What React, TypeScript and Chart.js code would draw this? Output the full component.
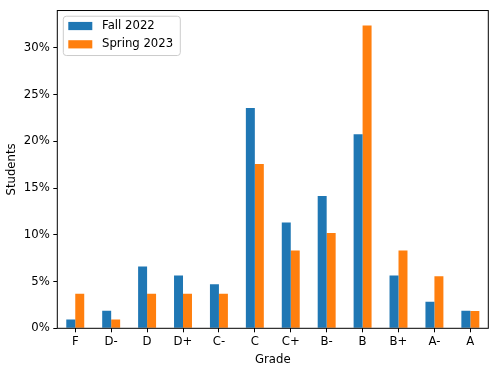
import React, { useEffect, useRef } from 'react';
import { Chart, registerables } from 'chart.js';

Chart.register(...registerables);

const grades = ['F', 'D-', 'D', 'D+', 'C-', 'C', 'C+', 'B-', 'B', 'B+', 'A-', 'A'];
const fall2022 = [0.94, 1.89, 6.6, 5.66, 4.72, 23.58, 11.32, 14.15, 20.75, 5.66, 2.83, 1.89];
const spring2023 = [3.7, 0.93, 3.7, 3.7, 3.7, 17.59, 8.33, 10.19, 32.41, 8.33, 5.56, 1.85];
const yTicks = [0, 5, 10, 15, 20, 25, 30];
const seriesLabels = ['Fall 2022', 'Spring 2023'];
const seriesColors = ['#1f77b4', '#ff7f0e'];

const FONT = 'DejaVu Sans';
const FS = 11.7;

const framePlugin = {
  id: 'frameAndLegend',
  afterDraw(chart: any) {
    const { ctx, chartArea: a } = chart;
    ctx.save();
    // axes frame
    ctx.strokeStyle = '#000';
    ctx.lineWidth = 1;
    ctx.strokeRect(a.left, a.top, a.right - a.left, a.bottom - a.top);
    // legend
    const bx = a.left + 6;
    const by = a.top + 5.7;
    const bw = 117;
    const bh = 39.3;
    ctx.beginPath();
    ctx.roundRect(bx, by, bw, bh, 3);
    ctx.fillStyle = 'rgba(255,255,255,0.8)';
    ctx.fill();
    ctx.strokeStyle = '#cccccc';
    ctx.lineWidth = 1;
    ctx.stroke();
    ctx.font = `${FS}px "${FONT}"`;
    ctx.textBaseline = 'middle';
    ctx.textAlign = 'left';
    chart.data.datasets.forEach((ds: any, i: number) => {
      const cy = by + 9.8 + i * 18.3;
      ctx.fillStyle = ds.backgroundColor;
      ctx.fillRect(bx + 5, cy - 4.1, 24, 8.2);
      ctx.fillStyle = '#000';
      ctx.fillText(ds.label, bx + 38.7, cy);
    });
    ctx.restore();
  },
};

export default function App() {
  const ref = useRef<HTMLCanvasElement>(null);
  useEffect(() => {
    if (!ref.current) return;
    const chart = new Chart(ref.current, {
      type: 'bar',
      data: {
        labels: grades,
        datasets: [
          { label: seriesLabels[0], data: fall2022, backgroundColor: seriesColors[0] },
          { label: seriesLabels[1], data: spring2023, backgroundColor: seriesColors[1] },
        ],
      },
      options: {
        responsive: false,
        animation: false,
        devicePixelRatio: 1,
        layout: { padding: { left: 0, right: 10.7, top: 9, bottom: 0 } },
        datasets: { bar: { categoryPercentage: 0.5, barPercentage: 1.0 } },
        plugins: { legend: { display: false }, tooltip: { enabled: false } },
        scales: {
          x: {
            grid: { display: true, drawOnChartArea: false, drawTicks: true, tickLength: 4, color: '#000', offset: false },
            border: { display: false },
            ticks: { color: '#000', font: { family: FONT, size: FS }, padding: 3, maxRotation: 0, autoSkip: false },
            title: { display: true, text: 'Grade', color: '#000', font: { family: FONT, size: FS }, padding: { top: 2, bottom: 10 } },
            afterFit: (s: any) => { s.height = 48.7; },
          },
          y: {
            min: 0,
            max: 34.0,
            grid: { display: true, drawOnChartArea: false, drawTicks: true, tickLength: 4, color: '#000' },
            border: { display: false },
            ticks: {
              color: '#000',
              font: { family: FONT, size: FS },
              padding: 3.5,
              includeBounds: false,
              callback: (v: any) => `${v}%`,
            },
            afterBuildTicks: (s: any) => { s.ticks = yTicks.map((v) => ({ value: v })); },
            title: { display: true, text: 'Students', color: '#000', font: { family: FONT, size: FS }, padding: { top: 5, bottom: 2 } },
            afterFit: (s: any) => { s.width = 57.3; },
          },
        },
      },
      plugins: [framePlugin],
    });
    return () => chart.destroy();
  }, []);
  return (
    <div style={{ position: 'fixed', left: 0, top: 0, width: 499, height: 377, background: '#fff' }}>
      <canvas ref={ref} width={499} height={377} />
    </div>
  );
}
